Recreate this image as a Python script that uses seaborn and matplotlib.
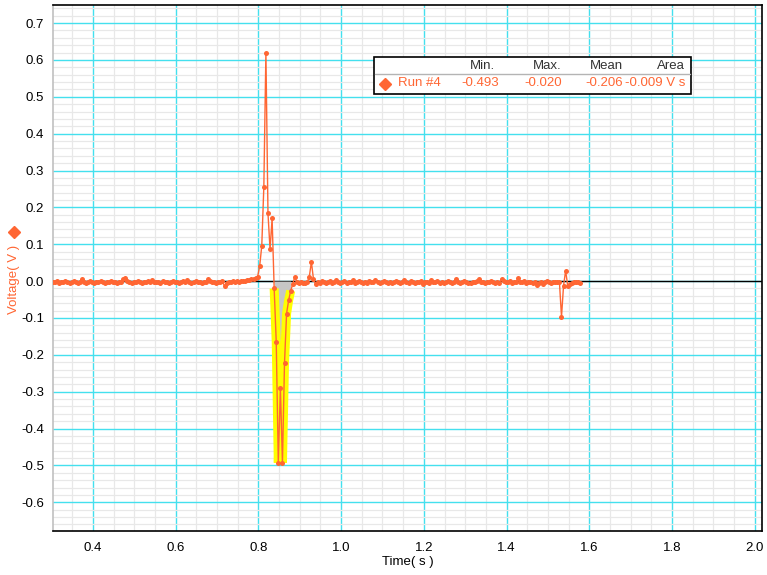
import numpy as np
import pandas as pd
import matplotlib
matplotlib.use("Agg")
import matplotlib.pyplot as plt
import seaborn as sns
from matplotlib.patches import Rectangle
from matplotlib.lines import Line2D
from matplotlib.ticker import MultipleLocator, FormatStrFormatter

# ---------------- data ----------------
T_START = 0.303   # s, first sample
DT = 0.005        # s, sample interval

# voltage in mV, before the pulse
pre_mv = [-2, -3, -1, -4, -2, -3, 0, -2, -5, -3,
          -1, -2, -4, -2, 6, -3, -6, -2, -1, -3,
          -4, -2, -3, -1, -2, -4, -3, -2, 1, -3,
          -2, -5, -3, -2, 5, 8, -1, -3, -4, -2,
          -3, -1, -2, -4, -3, -2, -1, -3, 4, -2,
          -3, -2, -4, -1, -2, -3, -5, -2, -1, -3,
          -2, -4, -3, -1, -2, 3, -3, -4, -2, -1,
          -3, -2, -4, -2, -3, 5, -1, -2, -3, -4,
          -2, -3, -1, -14, -5, -2, -3, -1, -2, 0,
          -2, -1, 0, 1, 2, 3, 5, 7, 9, 12]
# the pulse
pulse_mv = [41, 96, 256, 620, 184, 86, 170, -20, -165, -493,
            -290, -493, -222, -88, -52, -26, -8, 12]
# after the pulse
post_mv = [-3, -5, -2, -6, -4, -3, 12, 52, 6, -8,
           -2, -4, -1, -3, -5, -2, -1, -4, -3, 2,
           -2, -4, -3, -1, -6, -2, -3, 3, -4, -2,
           -1, -3, -5, -2, -4, -1, -3, -2, 4, -3,
           -5, -2, -1, -3, -4, -2, -6, -3, -1, -2,
           -4, -3, 2, -2, -5, -1, -3, -4, -2, -3,
           -1, -7, -3, -2, -4, 3, -2, -3, -1, -5,
           -2, -4, -3, -1, -2, -6, -3, 5, -2, -4,
           -3, -1, -2, -4, -5, -2, -3, -1, 6, -3,
           -2, -4, -3, -2, -1, -3, -5, -2, -4, 7,
           -1, -2, -3, -1, -4, -2, -3, 8, -2, -3,
           -1, -4, -2, -3, -6, -2, -10, -4, -3, -8,
           -2, -1, -3, -4, -2, -3, -2, -3,
           -97, -12, 28, -12, -9, -5, -3, -2, -3, -4]

# selected region (highlighted)
SEL_T0, SEL_T1 = 0.836, 0.880

stat_headers = ["Min.", "Max.", "Mean", "Area"]
stat_values = ["-0.493", "-0.020", "-0.206", "-0.009 V s"]
run_name = "Run #4"

# ---------------- build table ----------------
volts = np.array(pre_mv + pulse_mv + post_mv, dtype=float) / 1000.0
times = np.round(T_START + DT * np.arange(len(volts)), 4)
df = pd.DataFrame({"Time": times, "Voltage": volts})
sel = df[(df.Time >= SEL_T0) & (df.Time <= SEL_T1)]

# ---------------- style ----------------
W, H = 767, 575
ORANGE = "#FF6633"
CYAN = "#44E0EE"
FS = 9.5
sns.set_style("white")
plt.rcParams["font.family"] = ["Liberation Sans", "DejaVu Sans"]
plt.rcParams["axes.unicode_minus"] = False

fig = plt.figure(figsize=(W / 100, H / 100), dpi=100)
L, R, T, B = 53, 762, 5, 531
ax = fig.add_axes([L / W, 1 - B / H, (R - L) / W, (B - T) / H])
ax.set_facecolor("white")

# zero line (above grid, below the selection fill)
ax.axhline(0, color="black", lw=1.0, zorder=0.7)

# area of the selection
ax.fill_between(sel.Time, sel.Voltage, 0, color="#C6C6C6", lw=0, zorder=0.8)

# highlight of the selection
sns.lineplot(data=sel, x="Time", y="Voltage", ax=ax, color="#FFFF00",
             linewidth=6.5, estimator=None, sort=False, zorder=2,
             solid_capstyle="butt", solid_joinstyle="bevel")

# main trace
sns.lineplot(data=df, x="Time", y="Voltage", ax=ax, color=ORANGE,
             linewidth=1.0, marker="o", markersize=3.6, markeredgewidth=0,
             markerfacecolor=ORANGE, estimator=None, sort=False, zorder=3)

ax.set_xlim(0.303, 2.018)
ax.set_ylim(-0.678, 0.749)

ax.xaxis.set_major_locator(MultipleLocator(0.2))
ax.xaxis.set_minor_locator(MultipleLocator(0.05))
ax.yaxis.set_major_locator(MultipleLocator(0.1))
ax.yaxis.set_minor_locator(MultipleLocator(0.02))
ax.xaxis.set_major_formatter(FormatStrFormatter("%.1f"))
ax.yaxis.set_major_formatter(FormatStrFormatter("%.1f"))

ax.set_axisbelow(True)
ax.grid(which="minor", color="#E8E8E8", lw=0.9, zorder=0.5)
ax.grid(which="major", color=CYAN, lw=1.0, zorder=0.6)

ax.tick_params(axis="both", which="both", direction="out", colors="#A0A0A0",
               labelcolor="black", labelsize=FS)
ax.tick_params(axis="both", which="major", length=4, width=1)
ax.tick_params(axis="both", which="minor", length=3, width=1)
ax.tick_params(axis="y", which="major", pad=2.5)
ax.tick_params(axis="x", which="major", pad=4, colors="#707070", labelcolor="black")

for side in ["top", "right", "bottom"]:
    ax.spines[side].set_color("black")
    ax.spines[side].set_linewidth(1.2)
ax.spines["left"].set_color("#C0C0C0")
ax.spines["left"].set_linewidth(1.2)

ax.set_xlabel("")
ax.set_ylabel("")

def fx(px):
    return px / W

def fy(py):
    return 1 - py / H

# axis titles
fig.text(fx(408), fy(562), "Time( s )", ha="center", va="center", fontsize=FS,
         color="black")
fig.text(fx(14), fy(279), "Voltage( V )", ha="center", va="center", fontsize=FS,
         color=ORANGE, rotation=90)
fig.add_artist(Line2D([fx(14)], [fy(232)], transform=fig.transFigure,
                      marker="D", markersize=6.5, color=ORANGE, linestyle="none"))

# statistics box
bx0, by0, bx1, by1 = 374, 57, 691, 94
fig.add_artist(Rectangle((fx(bx0), fy(by1)), (bx1 - bx0) / W, (by1 - by0) / H,
                         transform=fig.transFigure, facecolor="white",
                         edgecolor="black", lw=1.2, zorder=5))
fig.add_artist(Line2D([fx(bx0 + 1), fx(bx1 - 1)], [fy(73.5), fy(73.5)],
                      transform=fig.transFigure, color="#B4B4B4", lw=1.0, zorder=6))
head_x = [495, 561.7, 623.3, 685]
val_x = [499.3, 561.7, 623.3, 685]
for hx, h in zip(head_x, stat_headers):
    fig.text(fx(hx), fy(66), h, ha="right", va="center", fontsize=FS,
             color="#333333", zorder=7)
for vx, v in zip(val_x, stat_values):
    fig.text(fx(vx), fy(83.5), v, ha="right", va="center", fontsize=FS,
             color=ORANGE, zorder=7)
fig.add_artist(Line2D([fx(385)], [fy(83.5)], transform=fig.transFigure,
                      marker="D", markersize=6, color=ORANGE, linestyle="none",
                      zorder=7))
fig.text(fx(398), fy(83.5), run_name, ha="left", va="center", fontsize=FS,
         color=ORANGE, zorder=7)

fig.savefig("out.png", dpi=100)
